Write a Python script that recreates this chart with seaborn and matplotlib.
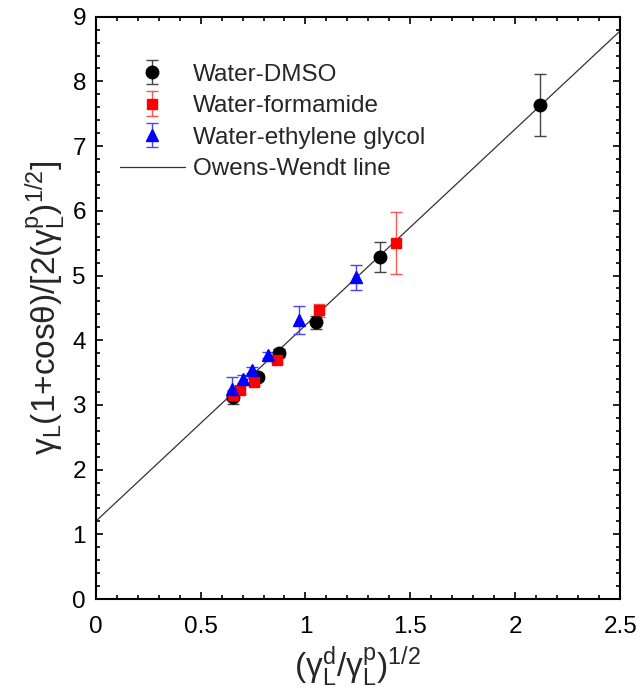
import matplotlib
matplotlib.use("Agg")
import matplotlib.pyplot as plt
import seaborn as sns
import numpy as np
import pandas as pd
from matplotlib.ticker import MultipleLocator

# Data
dmso_x = [0.655, 0.775, 0.875, 1.048, 1.357, 2.12]
dmso_y = [3.12, 3.43, 3.80, 4.28, 5.29, 7.64]
dmso_err = [0.10, 0.05, 0.06, 0.10, 0.23, 0.48]

form_x = [0.655, 0.688, 0.756, 0.863, 1.063, 1.43]
form_y = [3.15, 3.23, 3.36, 3.69, 4.46, 5.50]
form_err = [0.08, 0.06, 0.05, 0.05, 0.10, 0.48]

eg_x = [0.652, 0.700, 0.745, 0.820, 0.968, 1.24]
eg_y = [3.25, 3.40, 3.54, 3.77, 4.31, 4.97]
eg_err = [0.18, 0.06, 0.05, 0.05, 0.22, 0.20]

line_x = [0.0, 2.5]
line_y = [1.20, 8.78]

x_ticks = [0, 0.5, 1, 1.5, 2, 2.5]
x_ticklabels = ["0", "0.5", "1", "1.5", "2", "2.5"]
y_ticks = list(range(0, 10))

sns.set_style("ticks")
plt.rcParams["font.family"] = ["Liberation Sans", "DejaVu Sans"]
plt.rcParams["mathtext.fontset"] = "custom"
plt.rcParams["mathtext.rm"] = "Liberation Sans"
plt.rcParams["mathtext.it"] = "Liberation Sans:italic"
plt.rcParams["mathtext.bf"] = "Liberation Sans:bold"

fig = plt.figure(figsize=(6.4, 6.98), dpi=100)
ax = fig.add_axes([0.1495, 0.1418, 0.8195, 0.8343])

line_df = pd.DataFrame({"x": line_x, "y": line_y})
sns.lineplot(data=line_df, x="x", y="y", ax=ax, color="#333333", lw=0.9,
             label="Owens-Wendt line", zorder=1)

series = [
    ("Water-DMSO", dmso_x, dmso_y, dmso_err, "black", "#444444", "o", 9),
    ("Water-formamide", form_x, form_y, form_err, "#ff0000", "#ff5555", "s", 6.5),
    ("Water-ethylene glycol", eg_x, eg_y, eg_err, "#0000ff", "#4444ff", "^", 9),
]
handles = {}
for name, xs, ys, es, c, ec, m, ms in series:
    h = ax.errorbar(xs, ys, yerr=es, fmt=m, color=c, ecolor=ec, ms=ms,
                    mec=c, mfc=c, capsize=4.5, elinewidth=1.0, capthick=1.0,
                    label=name, zorder=3)
    handles[name] = h

line_handle = ax.get_lines()[0]
leg = ax.legend([handles["Water-DMSO"], handles["Water-formamide"],
                 handles["Water-ethylene glycol"], line_handle],
                ["Water-DMSO", "Water-formamide", "Water-ethylene glycol",
                 "Owens-Wendt line"],
                loc="upper left", bbox_to_anchor=(0.004, 0.957), frameon=False,
                fontsize=17.5, handlelength=2.7, handletextpad=0.3,
                labelspacing=0.39)

ax.set_xlim(0, 2.5)
ax.set_ylim(0, 9)
ax.set_xticks(x_ticks)
ax.set_xticklabels(x_ticklabels)
ax.set_yticks(y_ticks)
ax.xaxis.set_minor_locator(MultipleLocator(0.1))
ax.yaxis.set_minor_locator(MultipleLocator(0.2))
ax.tick_params(which="both", direction="in", top=True, right=True,
               labelsize=17.5, width=1.2, colors="black")
ax.tick_params(which="major", length=5)
ax.tick_params(which="minor", length=3)
ax.tick_params(axis="x", which="major", pad=12)
ax.tick_params(axis="y", which="major", pad=7)
for s in ax.spines.values():
    s.set_visible(True)
    s.set_linewidth(1.5)
    s.set_color("black")

ax.set_xlabel(r"(γ$_\mathrm{L}^\mathrm{d}$/γ$_\mathrm{L}^\mathrm{p}$)$^\mathrm{1/2}$",
              fontsize=24, labelpad=5)
ax.set_ylabel(r"γ$_\mathrm{L}$(1+cosθ)/[2(γ$_\mathrm{L}^\mathrm{p}$)$^\mathrm{1/2}$]",
              fontsize=24, labelpad=3)

fig.savefig("out.png", dpi=100)
